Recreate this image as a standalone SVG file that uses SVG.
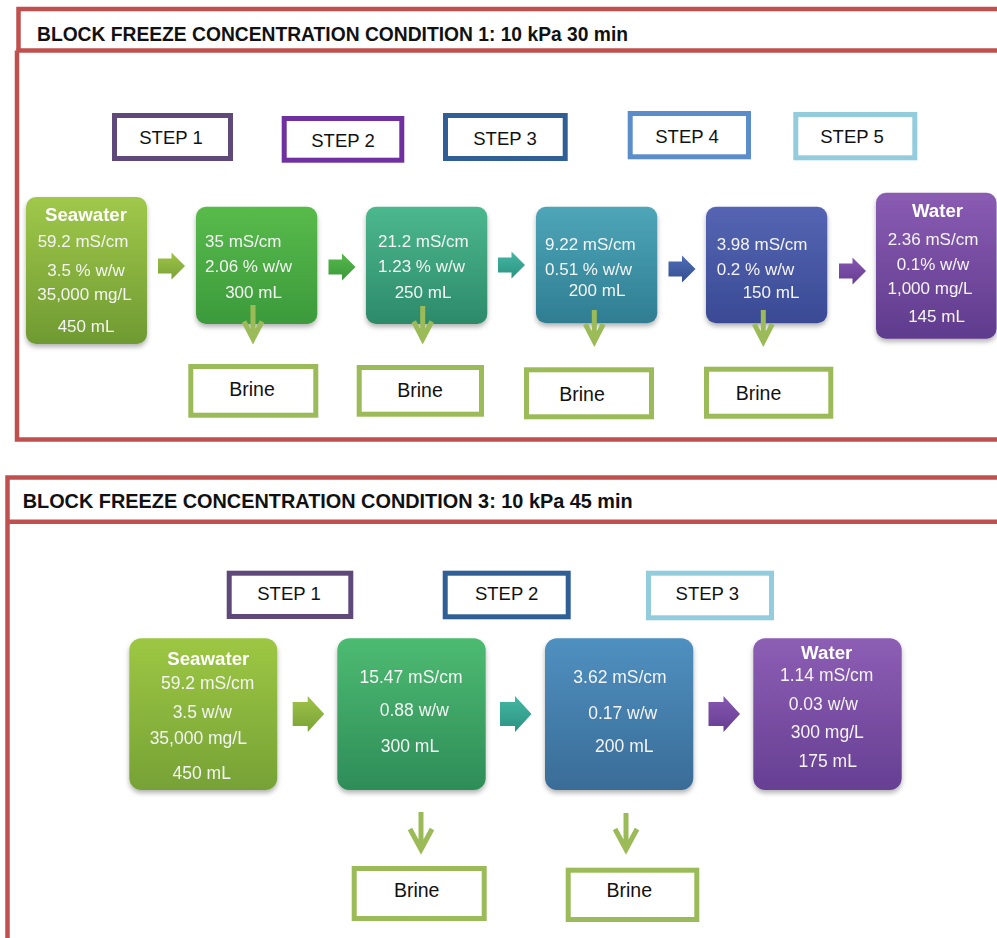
<svg xmlns="http://www.w3.org/2000/svg" width="997" height="938" viewBox="0 0 997 938">
<style>
  .frame{fill:none;stroke:#c0504d;stroke-width:4.5}
  .title{font-family:"Liberation Sans",Arial,sans-serif;font-weight:bold;fill:#111}
  .step{fill:#fff;stroke-width:5}
  .stept{font-family:"Liberation Sans",Arial,sans-serif;font-size:18.5px;fill:#111;text-anchor:middle}
  .brine{fill:#fff;stroke:#9bbb59;stroke-width:5}
  .brinet{font-family:"Liberation Sans",Arial,sans-serif;font-size:19.5px;fill:#111;text-anchor:middle}
  .nt{font-family:"Liberation Sans",Arial,sans-serif;font-size:17px;fill:#f4f4f4;text-anchor:middle}
  .nb{font-family:"Liberation Sans",Arial,sans-serif;font-size:17.5px;fill:#f4f4f4;text-anchor:middle}
  .nh{font-weight:bold;font-size:18.7px;fill:#fff}
  .s{text-anchor:start}
  .node{filter:url(#sh)}
  .barrow{fill:none;stroke:#9bbb59;stroke-width:5;stroke-linejoin:miter}
</style>
<defs>
  <filter id="sh" x="-10%" y="-10%" width="130%" height="130%">
    <feDropShadow dx="0" dy="3" stdDeviation="2.5" flood-color="#000" flood-opacity="0.3"/>
  </filter>
  <linearGradient id="gSea" x1="0" y1="0" x2="0" y2="1"><stop offset="0" stop-color="#a0c84a"/><stop offset="1" stop-color="#6f9a32"/></linearGradient>
  <linearGradient id="gSeaB" x1="0" y1="0" x2="0" y2="1"><stop offset="0" stop-color="#9dc743"/><stop offset="1" stop-color="#76a236"/></linearGradient>
  <linearGradient id="gN1" x1="0" y1="0" x2="0" y2="1"><stop offset="0" stop-color="#58bb4a"/><stop offset="1" stop-color="#3c9a3c"/></linearGradient>
  <linearGradient id="gN2" x1="0" y1="0" x2="0" y2="1"><stop offset="0" stop-color="#4cb88e"/><stop offset="1" stop-color="#2c8a6a"/></linearGradient>
  <linearGradient id="gN3" x1="0" y1="0" x2="0" y2="1"><stop offset="0" stop-color="#4ea6b8"/><stop offset="1" stop-color="#2f7d92"/></linearGradient>
  <linearGradient id="gN4" x1="0" y1="0" x2="0" y2="1"><stop offset="0" stop-color="#5565b3"/><stop offset="1" stop-color="#3a4a94"/></linearGradient>
  <linearGradient id="gW" x1="0" y1="0" x2="0" y2="1"><stop offset="0" stop-color="#8a5cb3"/><stop offset="1" stop-color="#5f3b8d"/></linearGradient>
  <linearGradient id="gB1" x1="0" y1="0" x2="0" y2="1"><stop offset="0" stop-color="#4dbb72"/><stop offset="1" stop-color="#2e8d58"/></linearGradient>
  <linearGradient id="gB2" x1="0" y1="0" x2="0" y2="1"><stop offset="0" stop-color="#4f90c0"/><stop offset="1" stop-color="#3a6c97"/></linearGradient>
  <linearGradient id="gBW" x1="0" y1="0" x2="0" y2="1"><stop offset="0" stop-color="#8c5eb4"/><stop offset="1" stop-color="#663f93"/></linearGradient>
  <linearGradient id="aA1" x1="0" y1="0" x2="0" y2="1"><stop offset="0" stop-color="#a0c448"/><stop offset="1" stop-color="#79a237"/></linearGradient>
  <linearGradient id="aA2" x1="0" y1="0" x2="0" y2="1"><stop offset="0" stop-color="#55b84a"/><stop offset="1" stop-color="#3c9a3c"/></linearGradient>
  <linearGradient id="aA3" x1="0" y1="0" x2="0" y2="1"><stop offset="0" stop-color="#44b8a4"/><stop offset="1" stop-color="#2c9281"/></linearGradient>
  <linearGradient id="aA4" x1="0" y1="0" x2="0" y2="1"><stop offset="0" stop-color="#4d6db4"/><stop offset="1" stop-color="#344f93"/></linearGradient>
  <linearGradient id="aA5" x1="0" y1="0" x2="0" y2="1"><stop offset="0" stop-color="#8757b1"/><stop offset="1" stop-color="#653d91"/></linearGradient>
  <path id="arT" d="M0,-7.5 H13.5 V-13.5 L27,0 L13.5,13.5 V7.5 H0 Z"/>
  <path id="arB" d="M0,-12 H15 V-18 L31.5,0 L15,18 V12 H0 Z"/>
</defs>

<rect x="0" y="0" width="997" height="938" fill="#fff"/>

<!-- Panel 1 -->
<g id="panel1">
  <path class="frame" d="M1000,9 H18.5 V50.5"/>
  <path class="frame" d="M16.5,50.5 H1000 M17,50.5 V439.5 H1000"/>
  <text class="title" x="37" y="40.5" font-size="19.3" textLength="591" lengthAdjust="spacingAndGlyphs">BLOCK FREEZE CONCENTRATION CONDITION 1: 10 kPa 30 min</text>
</g>

<g id="p1-step1"><rect class="step" stroke="#5f497a" x="114.5" y="115.5" width="116" height="43"/><text class="stept" x="171" y="144">STEP 1</text></g>
<g id="p1-step2"><rect class="step" stroke="#7030a0" x="284.2" y="118.5" width="117.6" height="41.7"/><text class="stept" x="343" y="146.5">STEP 2</text></g>
<g id="p1-step3"><rect class="step" stroke="#2f5f94" x="445.5" y="115.5" width="119.7" height="43"/><text class="stept" x="505" y="145">STEP 3</text></g>
<g id="p1-step4"><rect class="step" stroke="#5a8dca" x="630.2" y="113.5" width="118.3" height="43.3"/><text class="stept" x="687" y="143">STEP 4</text></g>
<g id="p1-step5"><rect class="step" stroke="#93cddd" x="795.8" y="114.5" width="119" height="43.3"/><text class="stept" x="852" y="143">STEP 5</text></g>

<g id="p1-seawater" class="node">
  <rect x="26" y="197" width="121" height="147" rx="10" fill="url(#gSea)"/>
  <text class="nt nh" x="86" y="221">Seawater</text>
  <text class="nt" x="83" y="246.5">59.2 mS/cm</text>
  <text class="nt" x="86" y="276">3.5 % w/w</text>
  <text class="nt" x="84.5" y="300">35,000 mg/L</text>
  <text class="nt" x="86" y="331.5">450 mL</text>
</g>
<g id="p1-n1" class="node">
  <rect x="196" y="206.7" width="121.3" height="117.3" rx="10" fill="url(#gN1)"/>
  <text class="nt s" x="205" y="246.5">35 mS/cm</text>
  <text class="nt s" x="205" y="271.5">2.06 % w/w</text>
  <text class="nt" x="253.5" y="298">300 mL</text>
</g>
<g id="p1-n2" class="node">
  <rect x="366" y="206.7" width="121.3" height="117.3" rx="10" fill="url(#gN2)"/>
  <text class="nt s" x="378" y="246.5">21.2 mS/cm</text>
  <text class="nt s" x="378" y="271.5">1.23 % w/w</text>
  <text class="nt" x="423" y="298">250 mL</text>
</g>
<g id="p1-n3" class="node">
  <rect x="536" y="206.7" width="121.3" height="116.6" rx="10" fill="url(#gN3)"/>
  <text class="nt s" x="545" y="250">9.22 mS/cm</text>
  <text class="nt s" x="545" y="275">0.51 % w/w</text>
  <text class="nt" x="597" y="295.5">200 mL</text>
</g>
<g id="p1-n4" class="node">
  <rect x="706" y="206.7" width="121.3" height="116.6" rx="10" fill="url(#gN4)"/>
  <text class="nt s" x="716.7" y="250">3.98 mS/cm</text>
  <text class="nt s" x="716.7" y="275">0.2 % w/w</text>
  <text class="nt" x="771" y="297.5">150 mL</text>
</g>
<g id="p1-water" class="node">
  <rect x="876" y="192.7" width="120.5" height="146" rx="10" fill="url(#gW)"/>
  <text class="nt nh" x="937.5" y="217">Water</text>
  <text class="nt" x="933" y="245">2.36 mS/cm</text>
  <text class="nt" x="933" y="270">0.1% w/w</text>
  <text class="nt" x="930" y="294">1,000 mg/L</text>
  <text class="nt" x="936.5" y="322">145 mL</text>
</g>

<g id="p1-brine1"><rect class="brine" x="190.8" y="366.5" width="125" height="48.7"/><text class="brinet" x="252" y="396">Brine</text></g>
<g id="p1-brine2"><rect class="brine" x="359.2" y="367.5" width="122.3" height="46.7"/><text class="brinet" x="420" y="397">Brine</text></g>
<g id="p1-brine3"><rect class="brine" x="526.5" y="369.8" width="125" height="47"/><text class="brinet" x="582" y="401">Brine</text></g>
<g id="p1-brine4"><rect class="brine" x="706.5" y="369.2" width="124.3" height="47"/><text class="brinet" x="758.5" y="400">Brine</text></g>

<!-- Panel 2 -->
<g id="panel2">
  <path class="frame" d="M1000,477.5 H7.5 V940"/>
  <path class="frame" d="M7.5,521.7 H1000"/>
  <text class="title" x="22.7" y="507.7" font-size="19.8" textLength="610" lengthAdjust="spacingAndGlyphs">BLOCK FREEZE CONCENTRATION CONDITION 3: 10 kPa 45 min</text>
</g>

<g id="p2-step1"><rect class="step" stroke="#5f497a" x="229.2" y="573.2" width="121.6" height="43.3"/><text class="stept" x="289" y="600">STEP 1</text></g>
<g id="p2-step2"><rect class="step" stroke="#2f5f94" x="445.2" y="573.2" width="123" height="43.6"/><text class="stept" x="506.7" y="600">STEP 2</text></g>
<g id="p2-step3"><rect class="step" stroke="#93cddd" x="648.5" y="573.2" width="123" height="44.6"/><text class="stept" x="707.3" y="600">STEP 3</text></g>

<g id="p2-seawater" class="node">
  <rect x="129.3" y="638.3" width="148" height="151.7" rx="12" fill="url(#gSeaB)"/>
  <text class="nb nh" x="208.3" y="665" font-size="19">Seawater</text>
  <text class="nb" x="207.7" y="689">59.2 mS/cm</text>
  <text class="nb" x="202.3" y="717.5">3.5 w/w</text>
  <text class="nb" x="198.3" y="744">35,000 mg/L</text>
  <text class="nb" x="201.7" y="779">450 mL</text>
</g>
<g id="p2-n1" class="node">
  <rect x="337.3" y="638.3" width="148.4" height="151.7" rx="12" fill="url(#gB1)"/>
  <text class="nb" x="411" y="683">15.47 mS/cm</text>
  <text class="nb" x="414.3" y="716">0.88 w/w</text>
  <text class="nb" x="410" y="752">300 mL</text>
</g>
<g id="p2-n2" class="node">
  <rect x="545" y="638.3" width="148.3" height="151.7" rx="12" fill="url(#gB2)"/>
  <text class="nb" x="620" y="683">3.62 mS/cm</text>
  <text class="nb" x="622.7" y="719">0.17 w/w</text>
  <text class="nb" x="624.3" y="752">200 mL</text>
</g>
<g id="p2-water" class="node">
  <rect x="753.3" y="638.3" width="148.4" height="151.7" rx="12" fill="url(#gBW)"/>
  <text class="nb nh" x="826.7" y="658.5" font-size="19">Water</text>
  <text class="nb" x="826.7" y="681">1.14 mS/cm</text>
  <text class="nb" x="823.3" y="709.5">0.03 w/w</text>
  <text class="nb" x="827.3" y="738">300 mg/L</text>
  <text class="nb" x="827.7" y="767">175 mL</text>
</g>

<g id="p2-brine1"><rect class="brine" x="354.2" y="868.5" width="130" height="50"/><text class="brinet" x="416.7" y="897" font-size="20">Brine</text></g>
<g id="p2-brine2"><rect class="brine" x="568.2" y="870.2" width="128.6" height="49.3"/><text class="brinet" x="629.3" y="897" font-size="20">Brine</text></g>

<!-- Connectors -->
<g id="connectors">
  <use href="#arT" x="158" y="266" fill="url(#aA1)"/>
  <use href="#arT" x="328.5" y="267" fill="url(#aA2)"/>
  <use href="#arT" x="498" y="265" fill="url(#aA3)"/>
  <use href="#arT" x="668.5" y="269" fill="url(#aA4)"/>
  <use href="#arT" x="839" y="271" fill="url(#aA5)"/>

  <path class="barrow" d="M253,305 V339 M244,321.5 L253,339 L262,321.5"/>
  <path class="barrow" d="M422.7,306 V339 M413.7,321.5 L422.7,339 L431.7,321.5"/>
  <path class="barrow" d="M594.3,310 V341.5 M585.3,324 L594.3,341.5 L603.3,324"/>
  <path class="barrow" d="M763.3,310 V341.5 M754.3,324 L763.3,341.5 L772.3,324"/>

  <use href="#arB" x="292.7" y="714" fill="url(#aA1)"/>
  <use href="#arB" x="500" y="714" fill="url(#aA3)"/>
  <use href="#arB" x="708.5" y="714" fill="url(#aA5)"/>

  <path class="barrow" d="M421,812 V849.5 M410,829 L421,849.5 L432,829"/>
  <path class="barrow" d="M626,813 V849.5 M615,829 L626,849.5 L637,829"/>
</g>
</svg>
